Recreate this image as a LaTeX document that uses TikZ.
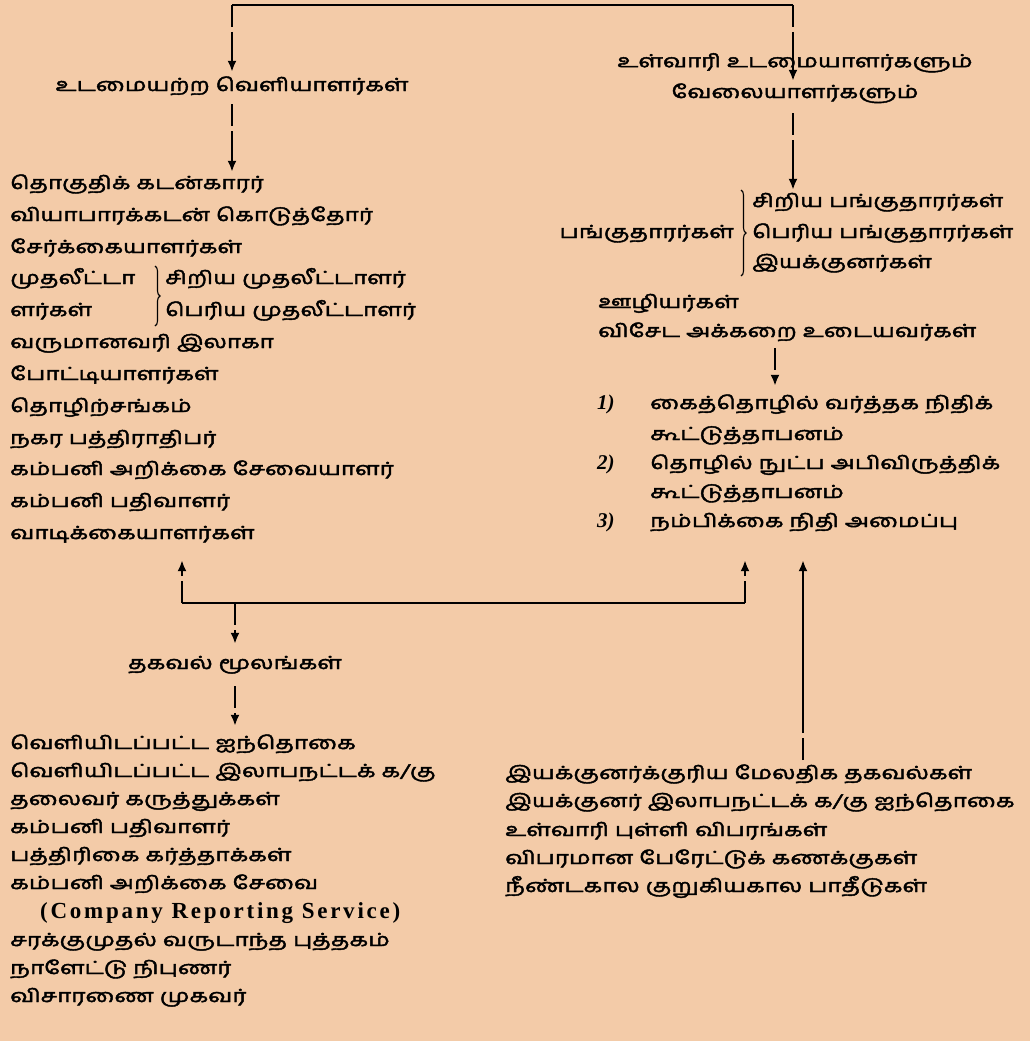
\documentclass[tikz,border=0pt]{standalone}
\usepackage{fontspec}
\setmainfont{Liberation Serif}
\newfontfamily\tamil[Script=Tamil,FakeStretch=1.35,FakeBold=2.4]{Hind Madurai}
\usetikzlibrary{calc,arrows.meta,decorations.pathreplacing}
\definecolor{paper}{RGB}{243,203,168}

\begin{document}
\begin{tikzpicture}[x=1pt,y=-1pt,
  txt/.style={inner sep=0pt,text height=13pt,text depth=5pt,font=\tamil\fontsize{18}{18}\selectfont},
  item/.style={txt,anchor=west},
  num/.style={item,font=\bfseries\itshape\fontsize{21}{21}\selectfont},
  link/.style={line width=2.1pt},
  flow/.style={link,-{Latex[length=11pt,width=9pt]},dash pattern=on 22pt off 5pt on 300pt},
  curly/.style={line width=1.1pt,decorate,decoration={brace,amplitude=5pt}}]
\fill[paper] (0,0) rectangle (1030,1041);
\useasboundingbox (0,0) rectangle (1030,1041);

% top split
\coordinate (topL) at (232,5);
\coordinate (topR) at (793,5);
\node[txt] (outsiders) at (232,87) {உடமையற்ற வெளியாளர்கள்};
\node[txt,align=center] (insiders) at (795,94) {உள்வாரி உடமையாளர்களும்\\[10pt]வேலையாளர்களும்};
\draw[link] (topL) -- (topR);
\draw[flow] (topL) -- ([yshift=6pt]outsiders.north);
\draw[flow] (topR) -- ([yshift=4pt]insiders.north -| topR);

% outsiders
\node[item] (l1) at (10,185) {தொகுதிக் கடன்காரர்};
\node[item] (l2) at (10,217) {வியாபாரக்கடன் கொடுத்தோர்};
\node[item] (l3) at (10,249) {சேர்க்கையாளர்கள்};
\node[item] (l4) at (10,280) {முதலீட்டா};
\node[item] (l5) at (10,312) {ளர்கள்};
\node[item] (l4a) at (165,280) {சிறிய முதலீட்டாளர்};
\node[item] (l5a) at (165,312) {பெரிய முதலீட்டாளர்};
\node[item] (l6) at (10,344) {வருமானவரி இலாகா};
\node[item] (l7) at (10,376) {போட்டியாளர்கள்};
\node[item] (l8) at (10,408) {தொழிற்சங்கம்};
\node[item] (l9) at (10,440) {நகர பத்திராதிபர்};
\node[item] (l10) at (10,471) {கம்பனி அறிக்கை சேவையாளர்};
\node[item] (l11) at (10,503) {கம்பனி பதிவாளர்};
\node[item] (l12) at (10,535) {வாடிக்கையாளர்கள்};
\draw[curly] (155,266) -- (155,326);
\draw[flow] ([yshift=-8pt]outsiders.south) -- ([yshift=4pt]outsiders.south |- l1.north);

% insiders
\node[item] (sh1) at (752,203) {சிறிய பங்குதாரர்கள்};
\node[txt,anchor=east] (shares) at (734,234) {பங்குதாரர்கள்};
\node[item] (sh2) at (752,234) {பெரிய பங்குதாரர்கள்};
\node[item] (sh3) at (752,264) {இயக்குனர்கள்};
\node[item] (staff) at (598,304) {ஊழியர்கள்};
\node[item] (special) at (598,333) {விசேட அக்கறை உடையவர்கள்};
\draw[curly] (741,190) -- (741,276);
\draw[flow] ([yshift=-10pt]insiders.south -| topR) -- ([yshift=4pt]topR |- sh1.north);

% funds
\coordinate (fundsTop) at (775,348);
\node[num] (n1) at (597,405) {1)};
\node[item] (f1) at (650,405) {கைத்தொழில் வர்த்தக நிதிக்};
\node[item] (f1b) at (650,436) {கூட்டுத்தாபனம்};
\node[num] (n2) at (597,465) {2)};
\node[item] (f2) at (650,465) {தொழில் நுட்ப அபிவிருத்திக்};
\node[item] (f2b) at (650,494) {கூட்டுத்தாபனம்};
\node[num] (n3) at (597,523) {3)};
\node[item] (f3) at (650,523) {நம்பிக்கை நிதி அமைப்பு};
\draw[flow] (fundsTop) -- ([yshift=10pt]fundsTop |- f1.north);

% published
\node[item] (p1) at (10,745) {வெளியிடப்பட்ட ஐந்தொகை};
\node[item] (p2) at (10,773) {வெளியிடப்பட்ட இலாபநட்டக் க/கு};
\node[item] (p3) at (10,801) {தலைவர் கருத்துக்கள்};
\node[item] (p4) at (10,829) {கம்பனி பதிவாளர்};
\node[item] (p5) at (10,857) {பத்திரிகை கர்த்தாக்கள்};
\node[item] (p6) at (10,885) {கம்பனி அறிக்கை சேவை};
\node[item,font=\bfseries\fontsize{23}{23}\selectfont\addfontfeature{LetterSpace=12}] (p7) at (40,914) {(Company Reporting Service)};
\node[item] (p8) at (10,942) {சரக்குமுதல் வருடாந்த புத்தகம்};
\node[item] (p9) at (10,970) {நாளேட்டு நிபுணர்};
\node[item] (p10) at (10,998) {விசாரணை முகவர்};

% internal information
\node[item] (e1) at (505,775) {இயக்குனர்க்குரிய மேலதிக தகவல்கள்};
\node[item] (e2) at (505,803) {இயக்குனர் இலாபநட்டக் க/கு ஐந்தொகை};
\node[item] (e3) at (505,832) {உள்வாரி புள்ளி விபரங்கள்};
\node[item] (e4) at (505,860) {விபரமான பேரேட்டுக் கணக்குகள்};
\node[item] (e5) at (505,888) {நீண்டகால குறுகியகால பாதீடுகள்};

% sources
\coordinate (midL) at (182,603);
\coordinate (midR) at (745,603);
\coordinate (upR) at (803,760);
\node[txt] (sources) at (235,665) {தகவல் மூலங்கள்};
\draw[link] (midL) -- (midR);
\draw[flow] (midL) -- ([yshift=-16pt]midL |- l12.south);
\draw[flow] (midR) -- ([yshift=-28pt]midR |- f3.south);
\draw[flow] (upR) -- ([yshift=-28pt]upR |- f3.south);
\draw[flow] (midL -| sources) -- ([yshift=12pt]sources.north);
\draw[flow] ([yshift=-12pt]sources.south) -- ([yshift=10pt]sources.south |- p1.north);
\end{tikzpicture}
\end{document}
